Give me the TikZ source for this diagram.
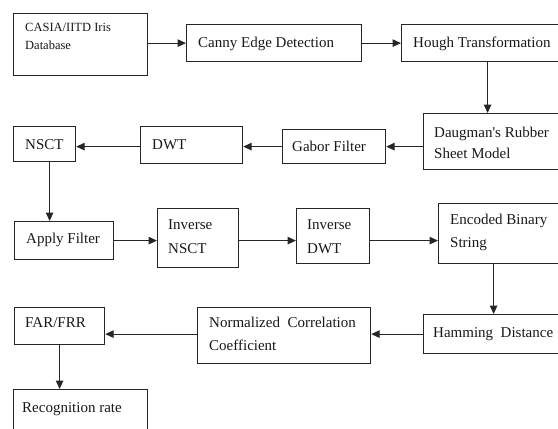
\documentclass[tikz,border=0pt]{standalone}
\usepackage{fontspec}
\setmainfont{Liberation Serif}
\usetikzlibrary{arrows.meta}
\tikzset{
  box/.style={draw=black!85, line width=1.2pt, fill=white, inner sep=0pt, anchor=north west},
  lbl/.style={anchor=base west, inner sep=0pt, text=black!90, font=\fontsize{15}{18}\selectfont},
  smalllbl/.style={lbl, font=\fontsize{12.5}{15}\selectfont},
  flow/.style={line width=1.2pt, draw=black!85, -{Triangle[length=8.5pt,width=7.5pt]}},
}
\begin{document}
\begin{tikzpicture}[x=1pt, y=-1pt]
  \useasboundingbox (0,0) rectangle (558,429);
  \clip (0,0) rectangle (558,429);
  \fill[white] (0,0) rectangle (558,429);

  % process boxes
  \node[box, minimum width=134, minimum height=62] (casia)    at (13,13)   {};
  \node[box, minimum width=175, minimum height=37] (canny)    at (186,24)  {};
  \node[box, minimum width=172, minimum height=37] (hough)    at (401,24)  {};
  \node[box, minimum width=150, minimum height=56] (daugman)  at (423,113) {};
  \node[box, minimum width=103, minimum height=34] (gabor)    at (282,129) {};
  \node[box, minimum width=102, minimum height=37] (dwt)      at (140,126) {};
  \node[box, minimum width=62,  minimum height=35] (nsct)     at (13,126)  {};
  \node[box, minimum width=99,  minimum height=38] (apply)    at (14,221)  {};
  \node[box, minimum width=81,  minimum height=59] (invnsct)  at (157,208) {};
  \node[box, minimum width=73,  minimum height=55] (invdwt)   at (296,208) {};
  \node[box, minimum width=135, minimum height=60] (encoded)  at (438,203) {};
  \node[box, minimum width=150, minimum height=39] (hamming)  at (423,314) {};
  \node[box, minimum width=173, minimum height=56] (normcorr) at (197,307) {};
  \node[box, minimum width=90,  minimum height=37] (farfrr)   at (14,307)  {};
  \node[box, minimum width=134, minimum height=60] (recog)    at (13,389)  {};

  % box texts
  \node[smalllbl] (t-casia1) at (25,31) {CASIA/IITD Iris};
  \node[smalllbl] (t-casia2) at (25,49) {Database};
  \node[lbl] (t-canny) at (198,47) {Canny Edge Detection};
  \node[lbl] (t-hough) at (413,47) {Hough Transformation};
  \node[lbl] (t-daug1) at (434,137) {Daugman\textquotesingle s Rubber};
  \node[lbl] (t-daug2) at (434,158) {Sheet Model};
  \node[lbl] (t-gabor) at (292,151) {Gabor Filter};
  \node[lbl] (t-dwt) at (152,149) {DWT};
  \node[lbl] (t-nsct) at (25,149) {NSCT};
  \node[lbl] (t-apply) at (26,243) {Apply Filter};
  \node[lbl] (t-invn1) at (168,229) {Inverse};
  \node[lbl] (t-invn2) at (168,253) {NSCT};
  \node[lbl] (t-invd1) at (307,229) {Inverse};
  \node[lbl] (t-invd2) at (307,253) {DWT};
  \node[lbl] (t-enc1) at (450,224) {Encoded Binary};
  \node[lbl] (t-enc2) at (450,247) {String};
  \node[lbl] (t-ham) at (433,337) {Hamming\ \ Distance};
  \node[lbl] (t-norm1) at (209,327) {Normalized\ \ Correlation};
  \node[lbl] (t-norm2) at (209,350) {Coefficient};
  \node[lbl] (t-far) at (25,327) {FAR/FRR};
  \node[lbl] (t-rec) at (22,412) {Recognition rate};

  % connectors
  \draw[flow] (casia.east |- canny.west) -- (canny.west);
  \draw[flow] (canny.east) -- (hough.west);
  \draw[flow] (hough.south) -- (hough.south |- daugman.north);
  \draw[flow] (daugman.west |- gabor.east) -- (gabor.east);
  \draw[flow] (gabor.west) -- (gabor.west -| dwt.east);
  \draw[flow] (dwt.west |- gabor.west) -- (gabor.west -| nsct.east);
  \draw[flow] ([xshift=5pt]nsct.south) -- ([xshift=5pt]nsct.south |- apply.north);
  \draw[flow] (apply.east) -- (apply.east -| invnsct.west);
  \draw[flow] (invnsct.east |- apply.east) -- (apply.east -| invdwt.west);
  \draw[flow] (invdwt.east |- apply.east) -- (apply.east -| encoded.west);
  \draw[flow] ([xshift=-12.5pt]encoded.south) -- ([xshift=-12.5pt]encoded.south |- hamming.north);
  \draw[flow] (hamming.west) -- (hamming.west -| normcorr.east);
  \draw[flow] (normcorr.west |- hamming.west) -- (hamming.west -| farfrr.east);
  \draw[flow] (farfrr.south) -- (farfrr.south |- recog.north);
\end{tikzpicture}
\end{document}
